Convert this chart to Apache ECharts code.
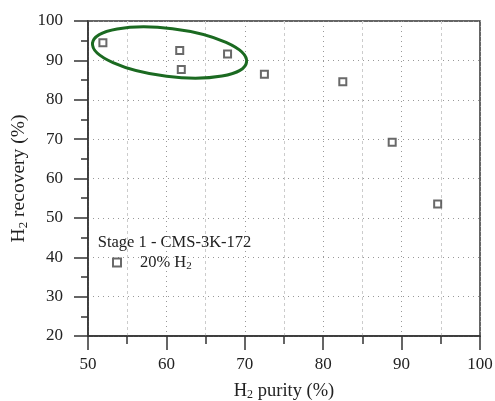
<!DOCTYPE html>
<html>
<head>
<meta charset="utf-8">
<script src="https://cdn.jsdelivr.net/npm/echarts@6/dist/echarts.min.js"></script>
<style>
  html, body { margin: 0; padding: 0; background: #fff; }
  #chart { width: 495px; height: 401px; }
</style>
</head>
<body>
<div id="chart"></div>
<script>
// H2 purity (%) vs H2 recovery (%)
var purity = [51.9, 61.7, 61.9, 67.8, 72.5, 82.5, 88.8, 94.6];
var recovery = [94.5, 92.5, 87.7, 91.6, 86.5, 84.6, 69.2, 53.5];
var seriesName = '20% H2';
var stageLabel = 'Stage 1 - CMS-3K-172';
// ellipse around the first four points: centre / radii in data units, tilt in degrees
var ringCenter = [60.4, 92.0];
var ringRadius = [9.9, 6.1];
var ringTilt = 7;

var serif = 'Liberation Serif';
var chart = echarts.init(document.getElementById('chart'));

var points = purity.map(function (p, i) { return [p, recovery[i]]; });

function subRich(size) {
    return { sub: { fontFamily: serif, fontSize: Math.round(size * 0.65), color: '#222', verticalAlign: 'bottom', padding: [Math.round(size * 0.45), 0, 0, 0] } };
}

chart.setOption({
    animation: false,
    grid: {
        left: 88, right: 15, top: 21, bottom: 65,
        outerBoundsMode: 'none',
        show: true, borderColor: '#333', borderWidth: 1.5
    },
    xAxis: {
        type: 'value', min: 50, max: 100, interval: 10,
        name: 'H{sub|2} purity (%)',
        nameLocation: 'middle', nameGap: 45,
        nameTextStyle: { fontFamily: serif, fontSize: 18.5, color: '#222', rich: subRich(18.5) },
        axisLine: { lineStyle: { color: '#333', width: 1.5 } },
        axisTick: { show: true, length: 14, lineStyle: { color: '#333', width: 1.5 } },
        minorTick: { show: true, splitNumber: 2, length: 8, lineStyle: { color: '#333', width: 1.5 } },
        axisLabel: { fontFamily: serif, fontSize: 17, color: '#222', margin: 20 },
        splitLine: { show: true, lineStyle: { color: '#999', type: [1, 4], width: 1 } },
        minorSplitLine: { show: true, lineStyle: { color: '#ccc', type: [3, 3], width: 1 } }
    },
    yAxis: {
        type: 'value', min: 20, max: 100, interval: 10,
        name: 'H{sub|2} recovery (%)',
        nameLocation: 'middle', nameGap: 58, nameMoveOverlap: false,
        nameTextStyle: { fontFamily: serif, fontSize: 19.5, color: '#222', rich: subRich(19.5) },
        axisLine: { show: true, lineStyle: { color: '#333', width: 1.5 } },
        axisTick: { show: true, length: 14, lineStyle: { color: '#333', width: 1.5 } },
        minorTick: { show: true, splitNumber: 2, length: 7, lineStyle: { color: '#333', width: 1.5 } },
        axisLabel: { fontFamily: serif, fontSize: 17, color: '#222', margin: 25 },
        splitLine: { show: true, lineStyle: { color: '#999', type: [1, 4], width: 1 } }
    },
    legend: {
        left: 107, top: 249,
        itemWidth: 8, itemHeight: 8, itemGap: 0,
        data: [seriesName],
        formatter: function () { return '20% H{sub|2}'; },
        textStyle: {
            fontFamily: serif, fontSize: 16.5, color: '#222',
            padding: [0, 0, 0, 14],
            rich: subRich(16.5)
        }
    },
    series: [{
        name: seriesName,
        type: 'scatter',
        symbol: 'rect',
        symbolSize: 7,
        itemStyle: { color: '#fff', borderColor: '#444', borderWidth: 2 },
        data: points
    }]
});

// ellipse and stage caption placed from data coordinates
var c = chart.convertToPixel('grid', ringCenter);
var ex = chart.convertToPixel('grid', [ringCenter[0] + ringRadius[0], ringCenter[1]]);
var ey = chart.convertToPixel('grid', [ringCenter[0], ringCenter[1] + ringRadius[1]]);
var cap = chart.convertToPixel('grid', [51.5, 43.8]);

chart.setOption({
    graphic: [{
        type: 'ellipse',
        x: c[0], y: c[1],
        rotation: -ringTilt * Math.PI / 180,
        shape: { cx: 0, cy: 0, rx: ex[0] - c[0], ry: c[1] - ey[1] },
        style: { fill: 'none', stroke: '#1b6a21', lineWidth: 3 },
        z: 10
    }, {
        type: 'text',
        x: cap[0] - 2, y: cap[1],
        style: { text: stageLabel, font: '16.5px "Liberation Serif"', fill: '#222', textVerticalAlign: 'middle' },
        z: 10
    }]
});
</script>
</body>
</html>
